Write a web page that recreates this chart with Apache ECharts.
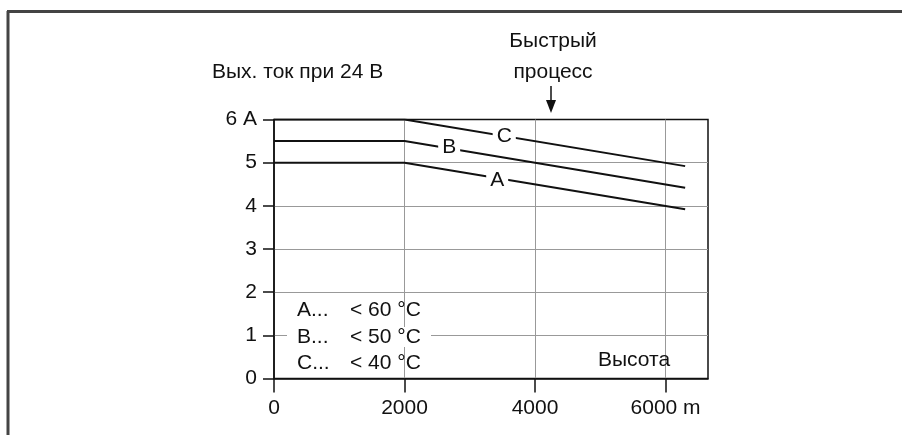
<!DOCTYPE html>
<html>
<head>
<meta charset="utf-8">
<script src="https://cdn.jsdelivr.net/npm/echarts@6/dist/echarts.min.js"></script>
<style>
  html, body { margin: 0; padding: 0; background: #fff; }
  #chart { width: 902px; height: 435px; }
</style>
</head>
<body>
<div id="chart"></div>
<script>
// высота, м
const altitude = [0, 2000, 6300]
// выходной ток, А
const curveA = [5, 5, 3.92]
const curveB = [5.5, 5.5, 4.42]
const curveC = [6, 6, 4.92]
const curveNames = ['A', 'B', 'C']
// где стоят буквы на линиях [высота, ток]
const curveLabelAt = [[3420, 4.6], [2684, 5.35], [3528, 5.62]]
const legendRows = [['A...', '< 60 °C'], ['B...', '< 50 °C'], ['C...', '< 40 °C']]
const xTicks = ['0', '2000', '4000', '6000 m']

const FONT = 'Liberation Sans'
const FS = 21
const TXT = '#111'
const font = FS + 'px "' + FONT + '"'

const chart = echarts.init(document.getElementById('chart'), null, { renderer: 'canvas' })

function pairs(ys) {
  return altitude.map((x, i) => [x, ys[i]])
}

const series = [curveA, curveB, curveC].map((ys, i) => ({
  name: curveNames[i],
  type: 'line',
  data: pairs(ys),
  symbol: 'none',
  lineStyle: { color: '#111', width: 2 },
  z: 3,
  markPoint: {
    symbol: 'rect',
    symbolSize: 0.1,
    silent: true,
    data: [{
      coord: curveLabelAt[i],
      label: {
        show: true,
        formatter: curveNames[i],
        position: 'inside',
        color: TXT,
        fontFamily: FONT,
        fontSize: FS,
        backgroundColor: '#fff',
        padding: [0, 4]
      }
    }]
  }
}))

// легенда внутри поля
const legendGraphics = []
legendGraphics.push({
  type: 'rect',
  shape: { x: 287, y: 327, width: 144, height: 20 },
  style: { fill: '#fff' },
  z: 10
})
legendRows.forEach((row, i) => {
  const y = 312 + i * 26.5
  legendGraphics.push({
    type: 'text', left: 297, top: y - 12, z: 11,
    style: { text: row[0], font: font, fill: TXT }
  })
  legendGraphics.push({
    type: 'text', left: 350, top: y - 12, z: 11,
    style: { text: row[1], font: font, fill: TXT }
  })
})

const option = {
  animation: false,
  backgroundColor: '#fff',
  grid: {
    left: 274, right: 194, top: 119.5, bottom: 56.5,
    show: true, borderColor: '#111', borderWidth: 1.5
  },
  xAxis: {
    type: 'value',
    min: 0, max: 6650, interval: 2000,
    axisLine: { lineStyle: { color: '#111', width: 1.5 } },
    axisTick: { length: 14, lineStyle: { color: '#111', width: 1.5 } },
    axisLabel: {
      showMaxLabel: false,
      margin: 19,
      color: TXT, fontFamily: FONT, fontSize: FS,
      formatter: v => xTicks[v / 2000] || ''
    },
    splitLine: { show: true, showMinLine: false, showMaxLine: false, lineStyle: { color: '#999', width: 1 } }
  },
  yAxis: {
    type: 'value',
    min: 0, max: 6, interval: 1,
    axisLine: { lineStyle: { color: '#111', width: 1.5 } },
    axisTick: { length: 11, lineStyle: { color: '#111', width: 1.5 } },
    axisLabel: {
      margin: 17,
      color: TXT, fontFamily: FONT, fontSize: FS,
      formatter: v => (v === 6 ? '6 A' : String(v))
    },
    splitLine: { show: true, showMinLine: false, showMaxLine: false, lineStyle: { color: '#999', width: 1 } }
  },
  series: series,
  graphic: [
    // рамка
    { type: 'line', shape: { x1: 8, y1: 11, x2: 8, y2: 435 }, style: { stroke: '#444', lineWidth: 3 } },
    { type: 'line', shape: { x1: 7, y1: 11.5, x2: 902, y2: 11.5 }, style: { stroke: '#444', lineWidth: 3 } },
    {
      type: 'text', left: 212, top: 62,
      style: { text: 'Вых. ток при 24 В', font: font, fill: TXT }
    },
    {
      type: 'text', x: 553, y: 26,
      style: {
        text: 'Быстрый\nпроцесс', font: font, fill: TXT,
        align: 'center', lineHeight: 31
      }
    },
    { type: 'line', shape: { x1: 551, y1: 86, x2: 551, y2: 102 }, style: { stroke: '#111', lineWidth: 1.5 } },
    { type: 'polygon', shape: { points: [[546, 100], [556, 100], [551, 113]] }, style: { fill: '#111' } },
    {
      type: 'text', left: 598, top: 350, z: 11,
      style: { text: 'Высота', font: font, fill: TXT }
    }
  ].concat(legendGraphics)
}

chart.setOption(option)
window.addEventListener('resize', () => chart.resize())
</script>
</body>
</html>
